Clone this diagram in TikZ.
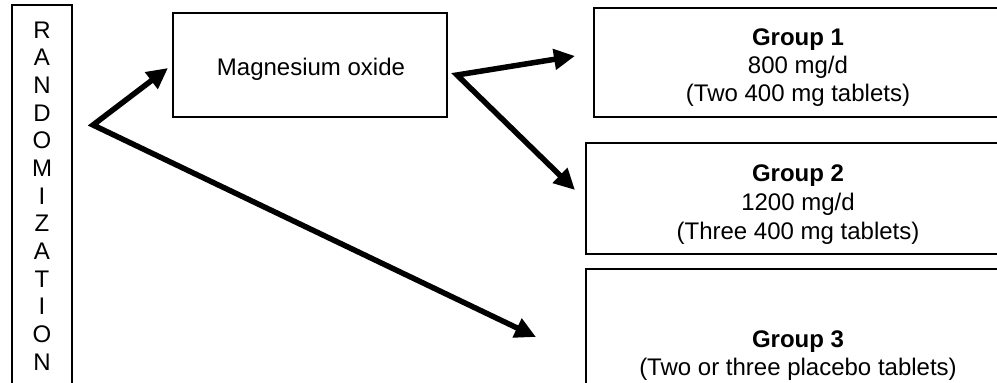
\documentclass[tikz,border=0pt]{standalone}
\usepackage{fontspec}
\setmainfont{Liberation Sans}
\usetikzlibrary{arrows.meta}
\begin{document}
\begin{tikzpicture}[x=1pt,y=-1pt,
  box/.style={draw, line width=1.6pt, inner sep=0pt},
  lbl/.style={anchor=base, inner sep=0pt, font=\fontsize{24}{28}\selectfont},
  blbl/.style={lbl, font=\fontsize{24}{28}\selectfont\bfseries},
  arr/.style={line width=5.5pt, miter limit=20,
    {Triangle[length=21pt,width=20pt]}-{Triangle[length=21pt,width=20pt]}}
]
\useasboundingbox (0,0) rectangle (997,383);
\clip (0,0) rectangle (997,383);

% boxes
\node[box, minimum width=60pt, minimum height=415pt] (rand) at (42,212.5) {};
\node[box, minimum width=274pt, minimum height=104pt] (mg) at (310,65) {};
\node[box, minimum width=408pt, minimum height=109pt] (g1) at (798,62.5) {};
\node[box, minimum width=424pt, minimum height=111pt] (g2) at (798,198.5) {};
\node[box, minimum width=424pt, minimum height=171pt] (g3) at (798,354.5) {};

% RANDOMIZATION letters
\foreach \l [count=\i] in {R,A,N,D,O,M,I,Z,A,T,I,O,N}
  \node[lbl] (r\i) at (42,{38+27.67*(\i-1)}) {\l};

% texts
\node[lbl] (mgt) at (311,75) {Magnesium oxide};
\node[blbl] (g1a) at (798,45) {Group 1};
\node[lbl] (g1b) at (798,73) {800 mg/d};
\node[lbl] (g1c) at (798,101) {(Two 400 mg tablets)};
\node[blbl] (g2a) at (798,181) {Group 2};
\node[lbl] (g2b) at (798,210) {1200 mg/d};
\node[lbl] (g2c) at (798,239) {(Three 400 mg tablets)};
\node[blbl] (g3a) at (798,347) {Group 3};
\node[lbl] (g3b) at (798,375) {(Two or three placebo tablets)};

% connector points
\coordinate (split) at (93,125);
\coordinate (mgtip) at (168,68);
\coordinate (g3tip) at (536,337);
\coordinate (mgout) at (457,75);
\coordinate (g1tip) at (575,56);
\coordinate (g2tip) at (575,190);

\draw[arr] (mgtip) -- (split) -- (g3tip);
\draw[arr] (g1tip) -- (mgout) -- (g2tip);
\end{tikzpicture}
\end{document}
